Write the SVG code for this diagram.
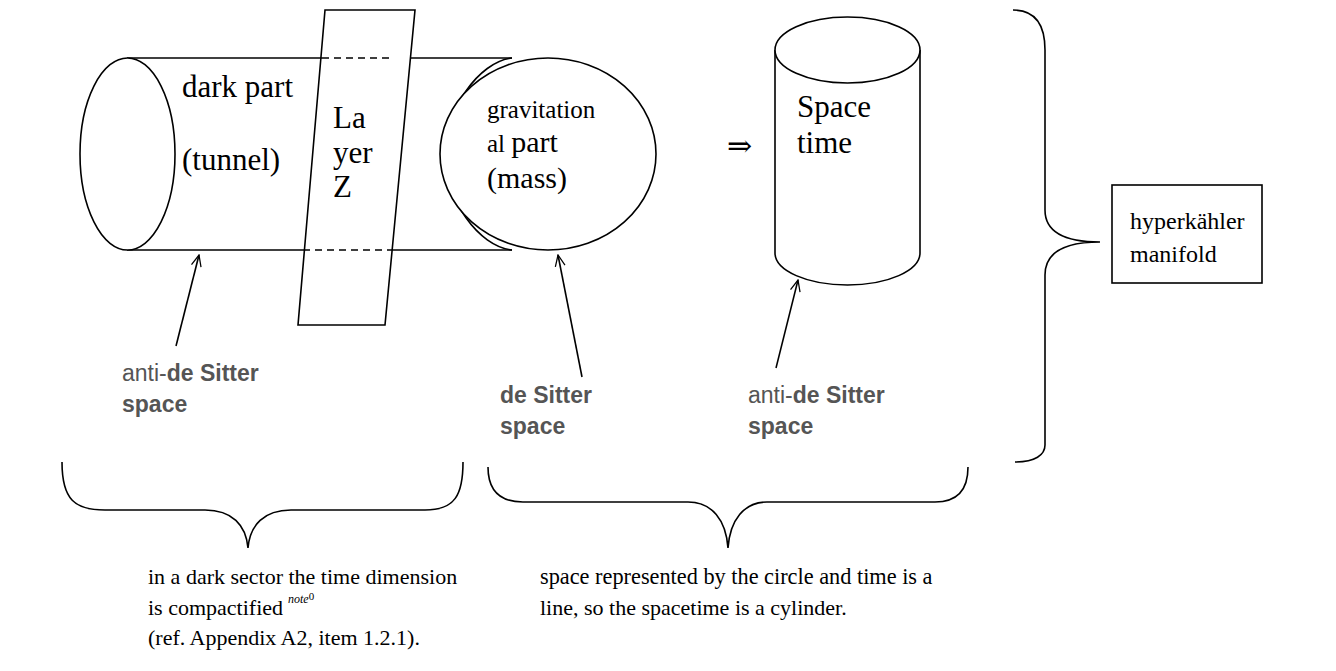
<svg xmlns="http://www.w3.org/2000/svg" width="1336" height="671" viewBox="0 0 1336 671">
<style>
.ln{fill:none;stroke:#000;stroke-width:1.6}
.fl{fill:#fff;stroke:#000;stroke-width:1.6}
.dash{fill:none;stroke:#000;stroke-width:1.6;stroke-dasharray:7,5}
.t{font-family:"Liberation Serif","Times New Roman",serif;fill:#000}
.g{font-family:"Liberation Sans",Arial,sans-serif;fill:#555;font-size:23px}
.b{font-weight:bold}
</style>
<defs>
<marker id="ah" viewBox="0 0 20 20" refX="18" refY="10" markerWidth="14" markerHeight="14" markerUnits="userSpaceOnUse" orient="auto">
<path d="M2,3 L18,10 L2,17" fill="none" stroke="#000" stroke-width="1.8"/>
</marker>
</defs>
<rect width="1336" height="671" fill="#fff"/>

<g id="tunnel">
<path class="ln" d="M127,58 Q135,58 148,58 L322,58"/>
<path class="ln" d="M127,250 Q135,250 148,250 L303,250"/>
<path class="ln" d="M410,58 L512,58"/>
<path class="ln" d="M392,250 L512,250"/>
<ellipse class="fl" cx="127.5" cy="154" rx="47.5" ry="96"/>
<text class="t" x="182" y="97" font-size="31">dark part</text>
<text class="t" x="182" y="170" font-size="31">(tunnel)</text>
</g>

<g id="layer-z">
<polygon class="ln" points="325,10 415,10 385,325 298,325"/>
<line class="dash" x1="322" y1="58" x2="392" y2="58"/>
<line class="dash" x1="303" y1="250" x2="392" y2="250"/>
<text class="t" x="333" y="128" font-size="31">La</text>
<text class="t" x="333" y="163" font-size="31">yer</text>
<text class="t" x="333" y="197" font-size="31">Z</text>
</g>

<g id="gravitational-part">
<path class="ln" d="M512,58 C478,62 446,110 444,154 C446,200 478,246 512,250"/>
<ellipse class="fl" cx="548" cy="154" rx="108" ry="96"/>
<text class="t" x="487" y="118" font-size="25">gravitation</text>
<text class="t" x="487" y="152"><tspan font-size="25">al </tspan><tspan font-size="30">part</tspan></text>
<text class="t" x="487" y="188" font-size="30">(mass)</text>
</g>

<g id="implies">
<text x="727" y="156" font-size="30" font-family="'DejaVu Serif','Liberation Serif',serif">⇒</text>
</g>

<g id="spacetime">
<path class="fl" d="M775,50 L775,253 A72.5,32 0 0 0 920,253 L920,50"/>
<ellipse class="fl" cx="847.5" cy="50" rx="72.5" ry="33"/>
<text class="t" x="797" y="117" font-size="31">Space</text>
<text class="t" x="797" y="153" font-size="31">time</text>
</g>

<g id="hyperkahler">
<rect class="ln" x="1112" y="185" width="150" height="98"/>
<text class="t" x="1130" y="229" font-size="24">hyperkähler</text>
<text class="t" x="1130" y="262" font-size="24">manifold</text>
</g>

<g id="label-ads-1">
<text class="g" x="122" y="381">anti-<tspan class="b">de Sitter</tspan></text>
<text class="g b" x="122" y="412">space</text>
</g>
<g id="label-ds">
<text class="g b" x="500" y="403">de Sitter</text>
<text class="g b" x="500" y="434">space</text>
</g>
<g id="label-ads-2">
<text class="g" x="748" y="403">anti-<tspan class="b">de Sitter</tspan></text>
<text class="g b" x="748" y="434">space</text>
</g>

<g id="connectors">
<line class="ln" x1="176" y1="346" x2="199" y2="255" marker-end="url(#ah)"/>
<line class="ln" x1="582" y1="377" x2="558" y2="255" marker-end="url(#ah)"/>
<line class="ln" x1="776" y1="368" x2="798" y2="280" marker-end="url(#ah)"/>
</g>

<g id="braces">
<path class="ln" d="M62,462 C62,500 75,510 105,510 L205,510 C232,510 246,525 248,548 C250,525 264,510 291,510 L425,510 C455,510 463,495 463,462"/>
<path class="ln" d="M488,467 C488,490 500,502 523,502 L688,502 C712,502 726,520 728,548 C730,520 744,502 767,502 L935,502 C958,502 968,490 968,467"/>
<path class="ln" d="M1013,10 C1035,10 1045,25 1045,50 L1045,210 C1045,232 1065,242 1100,242 C1065,242 1045,252 1045,275 L1045,445 C1045,455 1035,462 1015,462"/>
</g>

<g id="captions">
<text class="t" x="148" y="584" font-size="22">in a dark sector the time dimension</text>
<text class="t" x="148" y="615" font-size="22">is compactified<tspan font-size="12" font-style="italic" dx="5" dy="-12">note</tspan><tspan font-size="11" dy="-3">0</tspan></text>
<text class="t" x="148" y="645" font-size="22">(ref. Appendix A2, item 1.2.1).</text>
<text class="t" x="540" y="584" font-size="22.3">space represented by the circle and time is a</text>
<text class="t" x="540" y="615" font-size="22">line, so the spacetime is a cylinder.</text>
</g>
</svg>
